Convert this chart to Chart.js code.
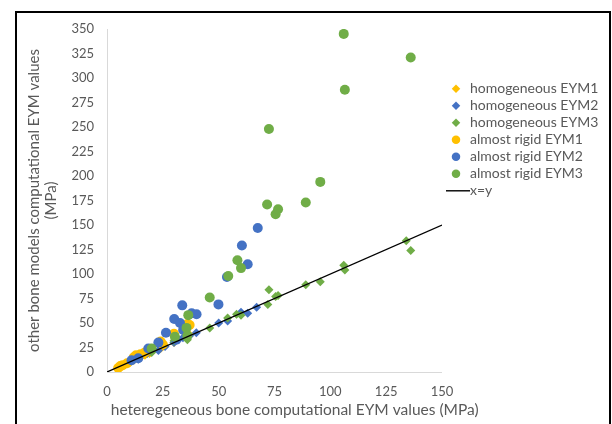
<!DOCTYPE html>
<html>
<head>
<meta charset="utf-8">
<title>EYM comparison</title>
<script src="https://cdn.jsdelivr.net/npm/chart.js@4.4.1/dist/chart.umd.min.js"></script>
<style>
    html, body { margin: 0; padding: 0; background: #fff; }
    #wrap { position: relative; width: 612px; height: 424px; overflow: hidden; }
    #frame { position: absolute; left: 15px; top: 11px; width: 592px; height: 440px; border: 2px solid #000; }
    #eymChart { position: absolute; left: 0; top: 0; }
</style>
</head>
<body>
<div id="wrap">
    <div id="frame"></div>
    <canvas id="eymChart" width="612" height="424"></canvas>
</div>
<script>
// heterogeneous EYM (x) vs other model EYM (y), MPa
const homEym1X = [5, 6, 8, 10, 12, 13, 15, 17, 19, 24, 25, 30, 36, 37];
const homEym1Y = [5, 6, 8, 10, 12, 14, 15, 17, 19, 24, 26, 30, 37, 38];
const homEym2X = [11, 14, 18, 23, 26, 30, 32, 34, 37, 40, 50, 54, 60, 63, 67];
const homEym2Y = [11, 13, 19, 22, 26, 30, 33, 35, 37, 40, 50, 52, 61, 60, 66];
const homEym3X = [20, 30, 36, 36, 46, 54, 58, 60, 72, 72.5, 75.5, 76.6, 89, 95.5, 106, 106.5, 134, 136];
const homEym3Y = [20, 32, 33, 38, 45, 55, 59, 58, 69, 84, 77, 78, 89, 92, 109, 104, 134, 124];
const rigidEym1X = [5, 6, 7, 9, 12, 13, 15, 17, 24, 25, 30, 35, 36, 37];
const rigidEym1Y = [4, 6, 7, 9, 15, 17, 18, 20, 31, 28, 39, 46, 49, 48];
const rigidEym2X = [11, 14, 18.5, 23, 26.4, 30.1, 31, 32.7, 34.1, 33.7, 37.9, 40.1, 49.9, 53.7, 60.4, 63, 67.5];
const rigidEym2Y = [12, 14, 24, 30, 40, 54, 33, 50, 43, 68, 60, 59, 69, 97, 129, 110, 147];
const rigidEym3X = [20, 30.4, 35.6, 36, 36.4, 46, 54.3, 58.4, 60, 71.7, 72.5, 75.5, 76.6, 89, 95.5, 106, 106.5, 136];
const rigidEym3Y = [24, 36, 45, 37, 58, 76, 98, 114, 106, 171, 248, 161, 166, 173, 194, 345, 288, 321];
const identityX = [0, 150];

const xTicks = [0, 25, 50, 75, 100, 125, 150];
const yTicks = [0, 25, 50, 75, 100, 125, 150, 175, 200, 225, 250, 275, 300, 325, 350];

const ORANGE = '#FFC000';
const BLUE = '#4472C4';
const GREEN = '#70AD47';
const TEXT = '#595959';
const FONT = 'Lato, "Open Sans", sans-serif';

function toPoints(xs, ys) {
    return xs.map((x, i) => ({ x: x, y: ys[i] }));
}

function markerSet(label, xs, ys, color, style, order) {
    return {
        label: label,
        data: toPoints(xs, ys),
        backgroundColor: color,
        borderColor: color,
        pointStyle: style,
        pointRadius: style === 'circle' ? 5 : 4.5,
        pointHoverRadius: style === 'circle' ? 5 : 4.5,
        borderWidth: 0,
        order: order
    };
}

// short line sample for the x=y legend entry
const lineSample = document.createElement('canvas');
lineSample.width = 29;
lineSample.height = 2;
const lsCtx = lineSample.getContext('2d');
lsCtx.fillStyle = '#000';
lsCtx.fillRect(0, 0, 29, 1.5);

const datasets = [
    markerSet('homogeneous EYM1', homEym1X, homEym1Y, ORANGE, 'rectRot', 7),
    markerSet('homogeneous EYM2', homEym2X, homEym2Y, BLUE, 'rectRot', 6),
    markerSet('homogeneous EYM3', homEym3X, homEym3Y, GREEN, 'rectRot', 5),
    markerSet('almost rigid EYM1', rigidEym1X, rigidEym1Y, ORANGE, 'circle', 4),
    markerSet('almost rigid EYM2', rigidEym2X, rigidEym2Y, BLUE, 'circle', 3),
    markerSet('almost rigid EYM3', rigidEym3X, rigidEym3Y, GREEN, 'circle', 2),
    {
        label: 'x=y',
        data: toPoints(identityX, identityX),
        showLine: true,
        borderColor: '#000',
        backgroundColor: '#000',
        borderWidth: 1.3,
        pointRadius: 0,
        pointStyle: lineSample,
        order: 1
    }
];

// nudge the legend a few px right of the plot edge and let it use the
// remaining width, so the labels are not clipped
const legendNudge = {
    id: 'legendNudge',
    afterLayout(chart) {
        chart.legend.left += 4;
        chart.legend.right = chart.width;
        chart.legend.width = chart.legend.right - chart.legend.left;
    }
};

new Chart(document.getElementById('eymChart').getContext('2d'), {
    type: 'scatter',
    data: { datasets: datasets },
    plugins: [legendNudge],
    options: {
        responsive: false,
        animation: false,
        layout: { padding: { top: 29, right: 22.67, bottom: 0, left: 0 } },
        plugins: {
            tooltip: { enabled: false },
            title: {
                display: true,
                position: 'bottom',
                text: 'heteregeneous bone computational EYM values (MPa)',
                color: TEXT,
                font: { family: FONT, size: 15.5, weight: 'normal' },
                padding: { top: 0, bottom: 5 }
            },
            legend: {
                position: 'right',
                align: 'start',
                title: { display: true, text: ' ', padding: { top: 16, bottom: 17 }, font: { family: FONT, size: 14 } },
                labels: {
                    usePointStyle: true,
                    boxWidth: 14,
                    boxHeight: 6,
                    padding: 3,
                    color: TEXT,
                    font: { family: FONT, size: 14 },
                    sort: (a, b) => a.datasetIndex - b.datasetIndex
                }
            }
        },
        scales: {
            x: {
                type: 'linear',
                min: 0,
                max: 150,
                afterFit: s => { s.height = 28.4; },
                afterBuildTicks: s => { s.ticks = xTicks.map(v => ({ value: v })); },
                grid: { display: false, drawTicks: false },
                border: { display: true, color: '#d9d9d9', width: 1 },
                ticks: { padding: 12, color: TEXT, font: { family: FONT, size: 13 } }
            },
            y: {
                type: 'linear',
                min: 0,
                max: 350,
                afterFit: s => { s.width = 107; },
                afterBuildTicks: s => { s.ticks = yTicks.map(v => ({ value: v })); },
                grid: { display: false, drawTicks: false },
                border: { display: true, color: '#d9d9d9', width: 1 },
                ticks: { padding: 13, color: TEXT, font: { family: FONT, size: 13 } },
                title: {
                    display: true,
                    text: ['other bone models computational EYM values', '(MPa)'],
                    color: TEXT,
                    font: { family: FONT, size: 15, lineHeight: 17 / 15 },
                    padding: { top: 26, bottom: 0 }
                }
            }
        }
    }
});
</script>
</body>
</html>
